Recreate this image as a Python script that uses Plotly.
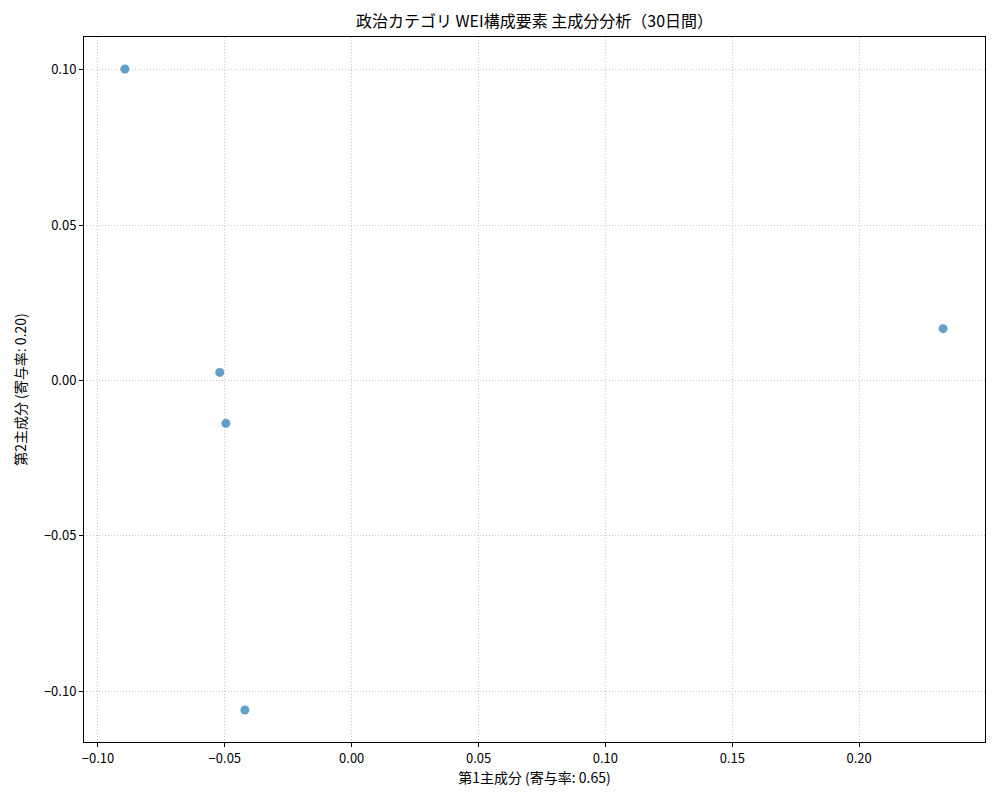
import plotly.graph_objects as go

# PCA scores
pc1 = [-0.0894, -0.0520, -0.0496, -0.0421, 0.2331]
pc2 = [0.1003, 0.0026, -0.0138, -0.1061, 0.0167]

x_ticks = [-0.10, -0.05, 0.00, 0.05, 0.10, 0.15, 0.20]
y_ticks = [-0.10, -0.05, 0.00, 0.05, 0.10]


def fmt(v):
    s = f"{v:.2f}"
    return s.replace("-", "\u2212")


font = "Noto Sans CJK JP"

fig = go.Figure()
fig.add_trace(go.Scatter(
    x=pc1, y=pc2, mode="markers",
    marker=dict(size=9, color="rgba(31,119,180,0.7)", line=dict(width=0)),
    hoverinfo="x+y",
))

axis_common = dict(
    showline=True, linecolor="black", linewidth=1, mirror=True,
    ticks="outside", ticklen=4, tickcolor="black",
    showgrid=True, gridcolor="#c8c8c8", griddash="1px,2px", gridwidth=0.8,
    zeroline=False, tickfont=dict(size=13, color="black", family=font),
)

fig.update_xaxes(
    range=[-0.1055, 0.2496], tickvals=x_ticks, ticktext=[fmt(v) for v in x_ticks],
    title=dict(text="第1主成分 (寄与率: 0.65)", font=dict(size=14, color="black", family=font), standoff=3),
    **axis_common,
)
fig.update_yaxes(
    range=[-0.1164, 0.1106], tickvals=y_ticks, ticktext=[fmt(v) for v in y_ticks],
    title=dict(text="第2主成分 (寄与率: 0.20)", font=dict(size=14, color="black", family=font), standoff=14),
    **axis_common,
)

# page body adds an 8px margin, so the figure is sized to fit the window
fig.update_layout(
    width=984, height=784,
    margin=dict(l=76, r=7, t=29, b=50),
    plot_bgcolor="white", paper_bgcolor="white",
    showlegend=False,
    title=dict(text="政治カテゴリ WEI構成要素 主成分分析（30日間）",
               x=0.5, xanchor="center", xref="paper",
               y=1 - 13 / 784, yanchor="middle",
               font=dict(size=16, color="black", family=font)),
    font=dict(family=font),
)

fig.write_html("out.html")
